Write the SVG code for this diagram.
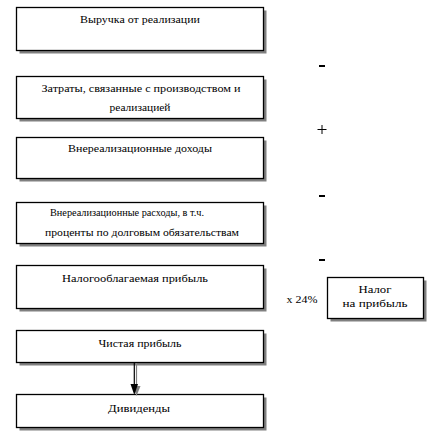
<svg xmlns="http://www.w3.org/2000/svg" width="442" height="437" viewBox="0 0 442 437">
<style>
.box{fill:#fff;stroke:#000;stroke-width:1.3}
.sh{fill:#808080}
.t{font-size:10.5px;fill:#000;text-anchor:middle}
.sign{stroke:#000;fill:none}
</style>
<rect width="442" height="437" fill="#fff"/>
<g font-family="Liberation Serif, Times New Roman, serif" class="t">
<g id="n1"><rect class="sh" x="19.5" y="10.5" width="247" height="43"/><rect class="box" x="16.5" y="7.5" width="247" height="43"/><text x="140" y="23" textLength="120" lengthAdjust="spacingAndGlyphs">Выручка от реализации</text></g>
<g id="n2"><rect class="sh" x="19.5" y="79.5" width="247" height="42"/><rect class="box" x="16.5" y="76.5" width="247" height="42"/><text x="141" y="92" textLength="199" lengthAdjust="spacingAndGlyphs">Затраты, связанные с производством и</text><text x="140" y="111" textLength="61" lengthAdjust="spacingAndGlyphs">реализацией</text></g>
<g id="n3"><rect class="sh" x="19.5" y="140.5" width="247" height="41"/><rect class="box" x="16.5" y="137.5" width="247" height="41"/><text x="140" y="152" textLength="144" lengthAdjust="spacingAndGlyphs">Внереализационные доходы</text></g>
<g id="n4"><rect class="sh" x="19.5" y="205.5" width="247" height="41"/><rect class="box" x="16.5" y="202.5" width="247" height="41"/><text x="127" y="216" textLength="154" lengthAdjust="spacingAndGlyphs">Внереализационные расходы, в т.ч.</text><text x="142" y="236" textLength="194" lengthAdjust="spacingAndGlyphs">проценты по долговым обязательствам</text></g>
<g id="n5"><rect class="sh" x="19.5" y="268.5" width="247" height="43"/><rect class="box" x="16.5" y="265.5" width="247" height="43"/><text x="135" y="282" textLength="146" lengthAdjust="spacingAndGlyphs">Налогооблагаемая прибыль</text></g>
<g id="n6"><rect class="sh" x="19.5" y="333.5" width="247" height="32"/><rect class="box" x="16.5" y="330.5" width="247" height="32"/><text x="140" y="347" textLength="83" lengthAdjust="spacingAndGlyphs">Чистая прибыль</text></g>
<g id="n7"><rect class="sh" x="19.5" y="397.5" width="247" height="33"/><rect class="box" x="16.5" y="394.5" width="247" height="33"/><text x="139" y="412" textLength="62" lengthAdjust="spacingAndGlyphs">Дивиденды</text></g>
<g id="n8"><rect class="sh" x="330.5" y="280.5" width="96" height="41"/><rect class="box" x="327.5" y="277.5" width="96" height="41"/><text x="375" y="293" textLength="33" lengthAdjust="spacingAndGlyphs">Налог</text><text x="375" y="307" textLength="65" lengthAdjust="spacingAndGlyphs">на прибыль</text></g>
<g id="labels">
<rect x="319" y="65" width="6" height="2" fill="#000"/>
<path class="sign" d="M317.5 129.5h9M322 125v9"/>
<rect x="319" y="195" width="6" height="2" fill="#000"/>
<rect x="319" y="259" width="6" height="2" fill="#000"/>
<text x="302" y="303" textLength="31" lengthAdjust="spacingAndGlyphs">х 24%</text>
</g>
</g>
<g id="connectors">
<line x1="136.5" y1="363" x2="136.5" y2="387" stroke="#808080" stroke-width="1.2"/>
<polygon points="133,386 140.5,386 136.5,396" fill="#808080"/>
<line x1="134.3" y1="362" x2="134.3" y2="386" stroke="#000" stroke-width="1.2"/>
<polygon points="130.5,384 138,384 134.3,395" fill="#000"/>
</g>
</svg>
